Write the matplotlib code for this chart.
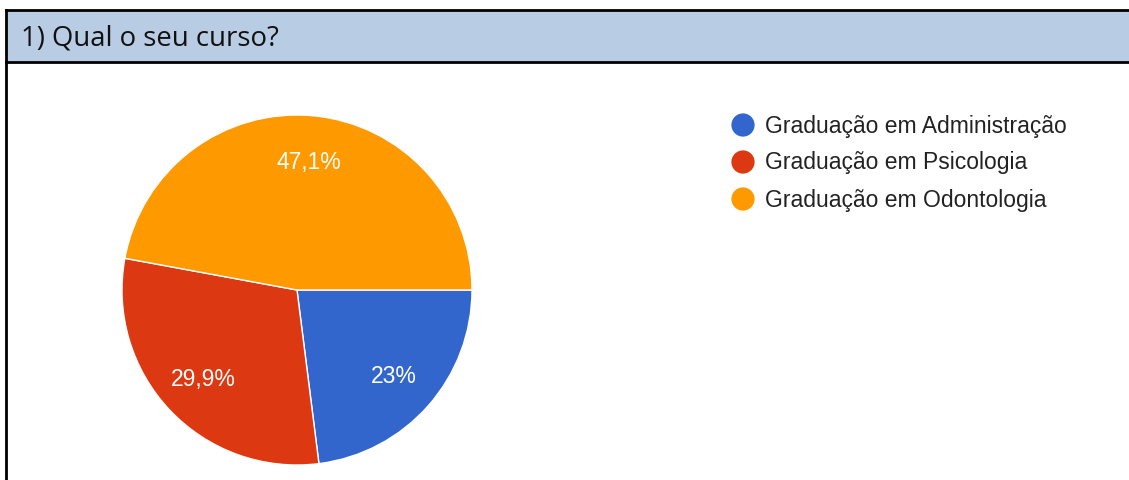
import matplotlib.pyplot as plt
from matplotlib.patches import Rectangle

# dados da pergunta 1
titulo = '1) Qual o seu curso?'
cursos = ['Graduação em Administração', 'Graduação em Psicologia', 'Graduação em Odontologia']
percentuais = [23.0, 29.9, 47.1]
cores = ['#3366cc', '#dc3912', '#ff9900']


def formata_pct(p):
    txt = f'{p:.1f}'.replace('.', ',')
    if txt.endswith(',0'):
        txt = txt[:-2]
    return txt + '%'


W, H = 1129, 481
fig = plt.figure(figsize=(W / 100, H / 100), dpi=100)
ax = fig.add_axes([0, 0, 1, 1])
ax.set_xlim(0, W)
ax.set_ylim(0, H)
ax.axis('off')

# cabeçalho azul com bordas
ax.add_patch(Rectangle((6, H - 63), W, 52, facecolor='#b8cce4', edgecolor='none'))
ax.plot([6, W], [H - 11, H - 11], color='black', lw=2)
ax.plot([6, W], [H - 63, H - 63], color='black', lw=2)
ax.plot([6, 6], [0, H - 11], color='black', lw=2)
ax.text(21, H - 38, titulo, fontsize=19.8, family='Open Sans', va='center', ha='left', color='#111111')

# pizza
wedges, textos, pcts = ax.pie(
    percentuais, colors=cores, startangle=0, counterclock=False,
    center=(297, H - 291), radius=175, frame=True,
    autopct=lambda p: formata_pct(p), pctdistance=0.74,
    wedgeprops=dict(edgecolor='white', linewidth=1),
    textprops=dict(color='white', fontsize=16.5, family='Liberation Sans'),
)
ax.set_xlim(0, W)
ax.set_ylim(0, H)
ax.axis('off')

# legenda
for i, (nome, cor) in enumerate(zip(cursos, cores)):
    y = H - 126 - i * 37
    ax.scatter([743], [y], s=280, color=cor, edgecolors='none')
    ax.text(765, y, nome, fontsize=16.5, family='Liberation Sans', color='#222222', va='center', ha='left')

fig.savefig('out.png', dpi=100, facecolor='white')
